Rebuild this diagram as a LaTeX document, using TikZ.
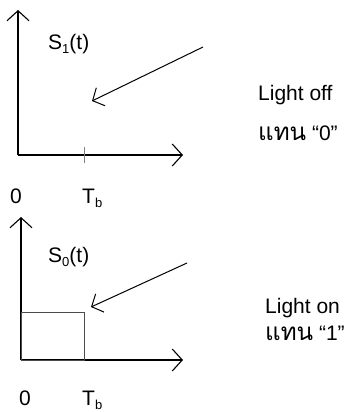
\documentclass[tikz,border=0pt]{standalone}
\usepackage{fontspec}
\setmainfont{Liberation Sans}
\newfontfamily\thaifont[Script=Thai,Scale=1.15]{Loma}
\usetikzlibrary{arrows.meta}

\newcommand{\lowsub}[1]{\raisebox{-4pt}{\fontsize{13}{13}\selectfont #1}}

\tikzset{
  axis/.style={line width=1.1pt, -{Straight Barb[length=10pt, width=22pt, line width=1.1pt]}},
  pointer/.style={line width=1pt, -{Straight Barb[length=9pt, width=20pt, line width=1pt]}},
  lbl/.style={inner sep=0pt, anchor=base west, font=\fontsize{21}{25}\selectfont}
}

\begin{document}
\begin{tikzpicture}[x=1pt, y=-1pt]
    \useasboundingbox (0,0) rectangle (349,412);

    % Upper graph: light off
    \coordinate (O1) at (18,155);
    \coordinate (Y1) at (18,10);
    \coordinate (X1) at (183,155);
    \coordinate (T1) at (84,155);
    \coordinate (P1) at (203,47);
    \coordinate (Q1) at (92,101);
    \draw[axis] (O1) -- (Y1);
    \draw[axis] (O1) -- (X1);
    \draw[line width=0.8pt, gray] ([yshift=-8pt]T1) -- ([yshift=8pt]T1);
    \draw[pointer] (P1) -- (Q1);

    \node[lbl] (s1) at (48,50) {S\lowsub{1}(t)};
    \node[lbl] (off) at (258,100) {Light off};
    \node[lbl] (rep0) at (258,140) {{\thaifont แทน} “0”};
    \node[lbl] (zero1) at (10,203) {0};
    \node[lbl] (tb1) at (82,203) {T\lowsub{b}};

    % Lower graph: light on
    \coordinate (O2) at (21,360);
    \coordinate (Y2) at (21,217);
    \coordinate (X2) at (183,360);
    \coordinate (R2) at (84,312);
    \coordinate (P2) at (187,263);
    \coordinate (Q2) at (91,307);
    \draw[axis] (O2) -- (Y2);
    \draw[axis] (O2) -- (X2);
    \draw[line width=0.8pt, black!70] (O2) rectangle (R2);
    \draw[pointer] (P2) -- (Q2);

    \node[lbl] (s0) at (48,262) {S\lowsub{0}(t)};
    \node[lbl] (on) at (265,313) {Light on};
    \node[lbl] (rep1) at (265,340) {{\thaifont แทน} “1”};
    \node[lbl] (zero2) at (19,405) {0};
    \node[lbl] (tb2) at (82,405) {T\lowsub{b}};
\end{tikzpicture}
\end{document}
